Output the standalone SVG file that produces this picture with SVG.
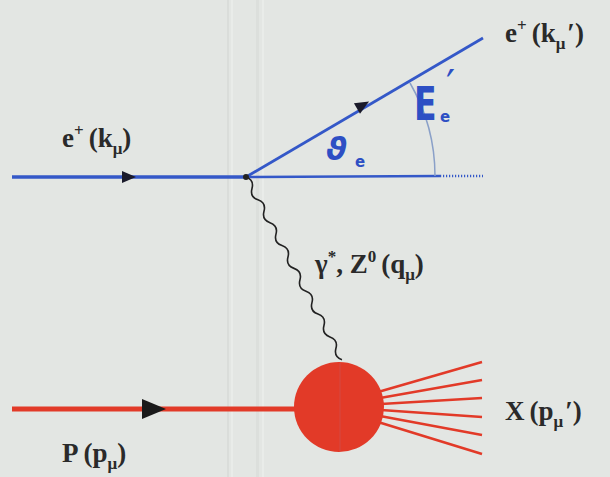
<svg xmlns="http://www.w3.org/2000/svg" width="610" height="477" viewBox="0 0 610 477">
<defs>
<style>
.lbl{font-family:"Liberation Serif","Times New Roman",serif;font-weight:bold;font-size:27px;fill:#2a2a2a}
.sub{font-size:17px}
.hand{font-family:"DejaVu Sans","Noto Sans",sans-serif;fill:#2d4fc4}
.blue{stroke:#3458c8;fill:none}
.red{stroke:#e23a28;fill:none}
</style>
</defs>
<rect width="610" height="477" fill="#e3e6e3"/>
<g opacity="0.5">
<rect x="227" y="0" width="2" height="477" fill="#d2d6d3"/>
<rect x="231" y="0" width="2" height="477" fill="#f0f2f0"/>
<rect x="256" y="0" width="3" height="477" fill="#d6d9d6"/>
<rect x="262" y="0" width="2" height="477" fill="#f0f2f0"/>
</g>
<g id="connectors">
<line class="blue" x1="12" y1="177" x2="247" y2="177" stroke-width="3.5"/>
<polygon points="122,171 136,177 122,183" fill="#1a1a2a"/>
<line class="blue" x1="246" y1="177" x2="440" y2="176" stroke-width="2.5"/>
<path d="M440,176 L483,176" stroke="#3458c8" stroke-width="2.5" stroke-dasharray="1.2 1.8" fill="none"/>
<line class="blue" x1="246" y1="177" x2="483" y2="38" stroke-width="2.8"/>
<polygon points="-7,-6 7,0 -7,6" fill="#1a1a2a" transform="translate(363,105) rotate(-30.4)"/>
<path d="M410,83 A186,186 0 0 1 435,176" stroke="#8aa0c8" stroke-width="1.5" fill="none"/>
<g transform="translate(246,177) rotate(62.3)">
<path d="M0,0 q6.45,-6 12.9,0 t12.9,0 t12.9,0 t12.9,0 t12.9,0 t12.9,0 t12.9,0 t12.9,0 t12.9,0 t12.9,0 t12.9,0 t12.9,0 t12.9,0 t12.9,0 t12.9,0 t12.9,0" stroke="#222" stroke-width="1.6" fill="none"/>
</g>
<circle cx="246" cy="177" r="3" fill="#222"/>
<line class="red" x1="12" y1="409" x2="300" y2="409" stroke-width="5"/>
<polygon points="142,399 166,409 142,419" fill="#1a1a1a"/>
<g class="red" stroke-width="2.5">
<line x1="378" y1="392" x2="482" y2="362"/>
<line x1="380" y1="398" x2="482" y2="380"/>
<line x1="381" y1="404" x2="482" y2="398"/>
<line x1="381" y1="410" x2="482" y2="417"/>
<line x1="380" y1="416" x2="482" y2="435"/>
<line x1="378" y1="422" x2="482" y2="454"/>
</g>
</g>
<g id="blob">
<circle cx="339" cy="407" r="45" fill="#e23a28"/>
<line x1="340" y1="363" x2="340" y2="451" stroke="#d8453a" stroke-width="1.5"/>
</g>
<g id="label-ein">
<text class="lbl" x="62" y="147">e<tspan class="sub" dy="-11">+</tspan><tspan dy="11" dx="5">(k</tspan><tspan class="sub" dy="7">μ</tspan><tspan dy="-7">)</tspan></text>
</g>
<g id="label-eout">
<text class="lbl" x="505" y="42">e<tspan class="sub" dy="-11">+</tspan><tspan dy="11" dx="5">(k</tspan><tspan class="sub" dy="7">μ</tspan><tspan dy="-7" dx="2">′)</tspan></text>
</g>
<g id="label-boson">
<text class="lbl" x="315" y="273">γ<tspan class="sub" dy="-11">*</tspan><tspan dy="11">, Z</tspan><tspan class="sub" dy="-11">0</tspan><tspan dy="11" dx="5">(q</tspan><tspan class="sub" dy="7">μ</tspan><tspan dy="-7">)</tspan></text>
</g>
<g id="label-x">
<text class="lbl" x="505" y="420">X<tspan dx="5">(p</tspan><tspan class="sub" dy="7">μ</tspan><tspan dy="-7" dx="2">′)</tspan></text>
</g>
<g id="label-p">
<text class="lbl" x="62" y="462">P<tspan dx="5">(p</tspan><tspan class="sub" dy="7">μ</tspan><tspan dy="-7">)</tspan></text>
</g>
<g id="label-E">
<text class="hand" x="414" y="120" font-size="46" font-weight="bold" transform="translate(414,0) scale(0.72,1) translate(-414,0)">E</text>
<text class="hand" x="440" y="122" font-size="15" font-weight="bold">e</text>
<text class="hand" x="446" y="99" font-size="40">′</text>
</g>
<g id="label-theta">
<text class="hand" x="326" y="160" font-size="32" font-style="italic" font-weight="bold">ϑ</text>
<text class="hand" x="355" y="167" font-size="15" font-weight="bold">e</text>
</g>
</svg>
